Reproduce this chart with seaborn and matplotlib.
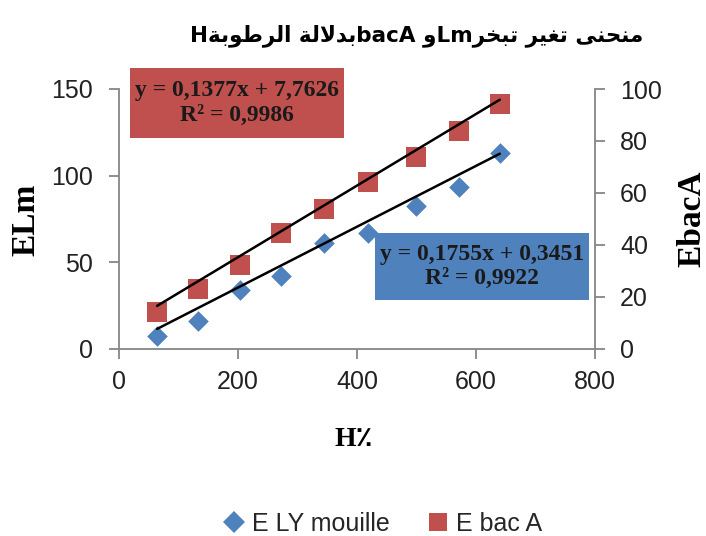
import re
import numpy as np
import pandas as pd
import matplotlib
matplotlib.use("Agg")
import matplotlib.pyplot as plt
import seaborn as sns
from matplotlib.lines import Line2D
from matplotlib.patches import Rectangle

# ---------------- data ----------------
humidity = [64, 132, 203, 272, 345, 419, 499, 571, 640]
e_ly_mouille = [7.7, 16.4, 34.2, 41.9, 61.2, 67.0, 82.6, 93.6, 113.3]
e_bac_a = [14.1, 23.2, 32.5, 44.8, 54.0, 64.3, 74.0, 83.9, 94.2]
series_names = ["E LY mouille", "E bac A"]
trend_slope = [0.1755, 0.1377]
trend_intercept = [0.3451, 7.7626]
trend_r2 = [0.9922, 0.9986]
x_ticks = [0, 200, 400, 600, 800]
left_ticks = [0, 50, 100, 150]
right_ticks = [0, 20, 40, 60, 80, 100]
title_text = "منحنى تغير تبخرLmو bacAبدلالة الرطوبةH"
x_label = "H٪"
left_label = "ELm"
right_label = "EbacA"

BLUE = "#4F81BD"
RED = "#C0504D"
AXIS_GREY = "#868686"

# ---------- minimal Arabic shaping (presentation forms + RTL order) ----------
FORMS = {
    "ا": ("\uFE8D", "\uFE8E", None, None),
    "ب": ("\uFE8F", "\uFE90", "\uFE91", "\uFE92"),
    "ة": ("\uFE93", "\uFE94", None, None),
    "ت": ("\uFE95", "\uFE96", "\uFE97", "\uFE98"),
    "ح": ("\uFEA1", "\uFEA2", "\uFEA3", "\uFEA4"),
    "خ": ("\uFEA5", "\uFEA6", "\uFEA7", "\uFEA8"),
    "د": ("\uFEA9", "\uFEAA", None, None),
    "ر": ("\uFEAD", "\uFEAE", None, None),
    "ط": ("\uFEC1", "\uFEC2", "\uFEC3", "\uFEC4"),
    "غ": ("\uFECD", "\uFECE", "\uFECF", "\uFED0"),
    "ل": ("\uFEDD", "\uFEDE", "\uFEDF", "\uFEE0"),
    "م": ("\uFEE1", "\uFEE2", "\uFEE3", "\uFEE4"),
    "ن": ("\uFEE5", "\uFEE6", "\uFEE7", "\uFEE8"),
    "و": ("\uFEED", "\uFEEE", None, None),
    "ى": ("\uFEEF", "\uFEF0", None, None),
    "ي": ("\uFEF1", "\uFEF2", "\uFEF3", "\uFEF4"),
}
LAM_ALEF = ("\uFEFB", "\uFEFC")


def _dual(c):
    return c in FORMS and FORMS[c][2] is not None


def shape(s):
    out, i, n, prev = [], 0, len(s), False
    while i < n:
        c = s[i]
        if c not in FORMS:
            out.append(c)
            prev = False
            i += 1
            continue
        if c == "ل" and i + 1 < n and s[i + 1] == "ا":
            out.append(LAM_ALEF[1] if prev else LAM_ALEF[0])
            prev = False
            i += 2
            continue
        nxt = s[i + 1] if i + 1 < n else ""
        to_next = _dual(c) and nxt in FORMS
        f = FORMS[c]
        if prev and to_next:
            g = f[3]
        elif prev:
            g = f[1]
        elif to_next:
            g = f[2]
        else:
            g = f[0]
        out.append(g)
        prev = to_next
        i += 1
    return "".join(out)


def visual(s):
    runs = re.findall(r"[A-Za-z0-9]+|[^A-Za-z0-9]+", s)
    out = []
    for r in reversed(runs):
        if re.match(r"[A-Za-z0-9]", r):
            out.append(r)
        else:
            out.append(shape(r)[::-1])
    return "".join(out)


# ---------------- figure ----------------
sns.set_theme(style="white")
plt.rcParams["font.family"] = ["Liberation Sans", "DejaVu Sans"]

W, H = 706, 536
fig = plt.figure(figsize=(W / 100, H / 100), dpi=100)


def fx(px):
    return px / W


def fy(py):
    return 1 - py / H


ax = fig.add_axes([fx(119), fy(349), (595 - 119) / W, (349 - 89) / H])
ax2 = ax.twinx()

df = pd.DataFrame({"H": humidity, "ELm": e_ly_mouille, "EbacA": e_bac_a})

sns.scatterplot(data=df, x="H", y="ELm", ax=ax, marker="D", s=110,
                color=BLUE, linewidth=0, zorder=3, legend=False)
sns.scatterplot(data=df, x="H", y="EbacA", ax=ax2, marker="s", s=228,
                color=RED, linewidth=0, zorder=3, legend=False)

xs = np.array([min(humidity), max(humidity)], dtype=float)
sns.lineplot(x=xs, y=trend_slope[0] * xs + trend_intercept[0], ax=ax,
             color="black", lw=1.8, zorder=4)
sns.lineplot(x=xs, y=trend_slope[1] * xs + trend_intercept[1], ax=ax2,
             color="black", lw=1.8, zorder=4)

ax.set_xlim(x_ticks[0], x_ticks[-1])
ax.set_ylim(left_ticks[0], left_ticks[-1])
ax2.set_ylim(right_ticks[0], right_ticks[-1])
ax.set_xticks(x_ticks)
ax.set_yticks(left_ticks)
ax2.set_yticks(right_ticks)

for a in (ax, ax2):
    a.spines["top"].set_visible(False)
    for side in ("left", "right", "bottom"):
        a.spines[side].set_color(AXIS_GREY)
        a.spines[side].set_linewidth(1.3)
    a.grid(False)
    a.set_xlabel("")
    a.set_ylabel("")
ax.spines["right"].set_visible(False)
ax2.spines["left"].set_visible(False)
ax2.spines["bottom"].set_visible(False)

ax.tick_params(axis="x", direction="out", pad=8, color=AXIS_GREY, labelcolor="#222222",
               labelsize=18, width=1.3, length=7, bottom=True)
ax.tick_params(axis="y", direction="out", pad=12, color=AXIS_GREY, labelcolor="#222222",
               labelsize=18, width=1.3, length=7, left=True)
ax2.tick_params(axis="y", direction="out", pad=11, color=AXIS_GREY, labelcolor="#222222",
                labelsize=18, width=1.3, length=7, right=True)

label_font = dict(family=["Liberation Serif", "DejaVu Serif", "DejaVu Sans"],
                  fontweight="bold", fontsize=24, color="black")
fig.text(fx(26), fy(220), left_label, rotation=90, ha="center", va="center", **label_font)
fig.text(fx(692), fy(219), right_label, rotation=90, ha="center", va="center", **label_font)
fig.text(fx(354), fy(439), x_label, ha="center", va="center",
         family=["Liberation Serif", "DejaVu Sans"], fontweight="bold", fontsize=20, color="black")

fig.text(fx(417), fy(36), visual(title_text), ha="center", va="center",
         family=["DejaVu Sans"], fontweight="bold", fontsize=15.5, color="black")


# equation boxes
def eq_box(x0, y0, x1, y1, color, k):
    fig.patches.append(Rectangle((fx(x0), fy(y1)), (x1 - x0) / W, (y1 - y0) / H,
                                 transform=fig.transFigure, facecolor=color,
                                 edgecolor="none", zorder=5))
    txt = ("y = %.4fx + %.4f" % (trend_slope[k], trend_intercept[k])).replace(".", ",")
    txt += "\n" + ("R² = %.4f" % trend_r2[k]).replace(".", ",")
    fig.text(fx((x0 + x1) / 2), fy((y0 + y1) / 2), txt, ha="center", va="center",
             multialignment="center", linespacing=1.2,
             family=["Liberation Serif", "DejaVu Serif"], fontweight="bold",
             fontsize=17, color="#1a1a1a", zorder=6)


eq_box(130, 68, 344, 138, RED, 1)
eq_box(375, 233, 589, 300, BLUE, 0)

handles = [
    Line2D([], [], marker="D", linestyle="none", markersize=11, color=BLUE, markeredgewidth=0),
    Line2D([], [], marker="s", linestyle="none", markersize=13, color=RED, markeredgewidth=0),
]
fig.legend(handles, series_names, loc="center", bbox_to_anchor=(fx(383), fy(524)),
           ncol=2, frameon=False, handlelength=0.8, handletextpad=0.35,
           columnspacing=1.5, prop={"family": ["Liberation Sans"], "size": 18})

fig.savefig("out.png", dpi=100, facecolor="white")
